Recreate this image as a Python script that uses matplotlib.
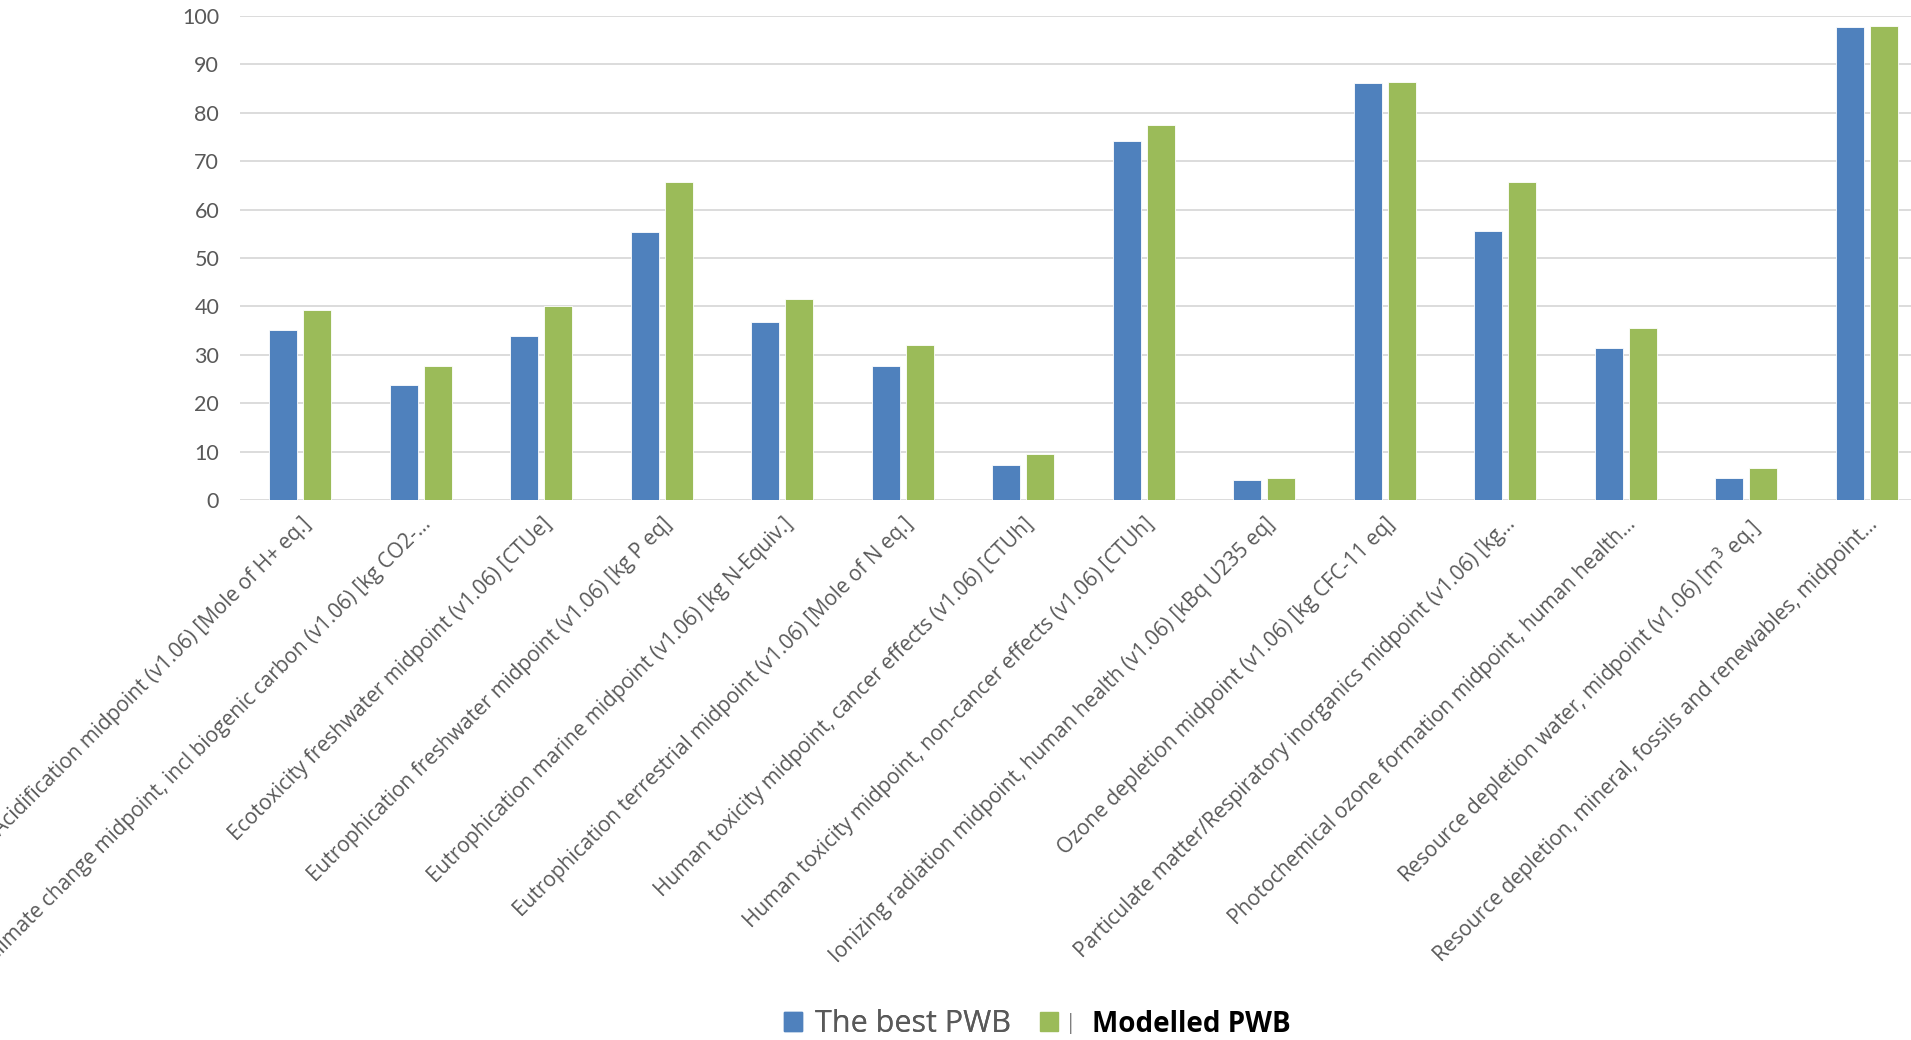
import matplotlib.pyplot as plt
from matplotlib.patches import Patch
import numpy as np

categories = [
    "Acidification midpoint (v1.06) [Mole of H+ eq.]",
    "Climate change midpoint, incl biogenic carbon (v1.06) [kg CO2-...",
    "Ecotoxicity freshwater midpoint (v1.06) [CTUe]",
    "Eutrophication freshwater midpoint (v1.06) [kg P eq]",
    "Eutrophication marine midpoint (v1.06) [kg N-Equiv.]",
    "Eutrophication terrestrial midpoint (v1.06) [Mole of N eq.]",
    "Human toxicity midpoint, cancer effects (v1.06) [CTUh]",
    "Human toxicity midpoint, non-cancer effects (v1.06) [CTUh]",
    "Ionizing radiation midpoint, human health (v1.06) [kBq U235 eq]",
    "Ozone depletion midpoint (v1.06) [kg CFC-11 eq]",
    "Particulate matter/Respiratory inorganics midpoint (v1.06) [kg...",
    "Photochemical ozone formation midpoint, human health...",
    "Resource depletion water, midpoint (v1.06) [m$^3$ eq.]",
    "Resource depletion, mineral, fossils and renewables, midpoint...",
]
best_pwb = [35.2, 23.7, 33.8, 55.3, 36.7, 27.7, 7.2, 74.1, 4.2, 86.2, 55.6, 31.5, 4.5, 97.7]
modelled_pwb = [39.2, 27.7, 40.1, 65.6, 41.5, 32.1, 9.6, 77.5, 4.5, 86.3, 65.7, 35.6, 6.6, 97.9]
yticks = [0, 10, 20, 30, 40, 50, 60, 70, 80, 90, 100]

blue = '#4f81bd'
green = '#9bbb59'

plt.rcParams['font.family'] = ['Open Sans', 'DejaVu Sans']

fig = plt.figure(figsize=(19.11, 10.40), dpi=100)
ax = fig.add_axes([240 / 1911, 1 - 500 / 1040, 1687 / 1911, 484 / 1040])

x = np.arange(len(categories))
w = 0.233
off = 0.141
ax.bar(x - off, best_pwb, w, color=blue, edgecolor='white', linewidth=0.6, zorder=3)
ax.bar(x + off, modelled_pwb, w, color=green, edgecolor='white', linewidth=0.6, zorder=3)

ax.set_xlim(-0.5, len(categories) - 0.5)
ax.set_ylim(0, 100)
ax.set_yticks(yticks)
ax.set_yticklabels([str(t) for t in yticks], fontsize=15.5, color='#595959', family='Lato')
ax.yaxis.grid(True, color='#d9d9d9', linewidth=1.3, zorder=0)
ax.set_axisbelow(True)
for s in ax.spines.values():
    s.set_visible(False)
ax.tick_params(axis='both', length=0)
ax.tick_params(axis='y', pad=15)

ax.set_xticks(x)
ax.set_xticklabels(categories, rotation=45, ha='right', rotation_mode='anchor',
                   fontsize=15, color='#595959')
ax.tick_params(axis='x', pad=10)

# legend: two separate entries so the spacing matches
leg1 = fig.legend(handles=[Patch(color=blue)], labels=['The best PWB'],
                  loc='center left', bbox_to_anchor=(784 / 1911, 1 - 1024 / 1040),
                  frameon=False, fontsize=22, handlelength=0.6, handleheight=0.6,
                  handletextpad=0.4, borderpad=0, borderaxespad=0)
leg1.get_texts()[0].set_color('#595959')
leg2 = fig.legend(handles=[Patch(color=green)], labels=['Modelled PWB'],
                  loc='center left', bbox_to_anchor=(1040 / 1911, 1 - 1024 / 1040),
                  frameon=False, fontsize=20, handlelength=0.66, handleheight=0.66,
                  handletextpad=1.2, borderpad=0, borderaxespad=0)
leg2.get_texts()[0].set_color('black')
leg2.get_texts()[0].set_fontweight('bold')
fig.add_artist(leg1)
fig.text(1071 / 1911, 1 - 1024 / 1040, '|', fontsize=15, color='#7f7f7f',
         ha='center', va='center')

fig.savefig('out.png', dpi=100)
